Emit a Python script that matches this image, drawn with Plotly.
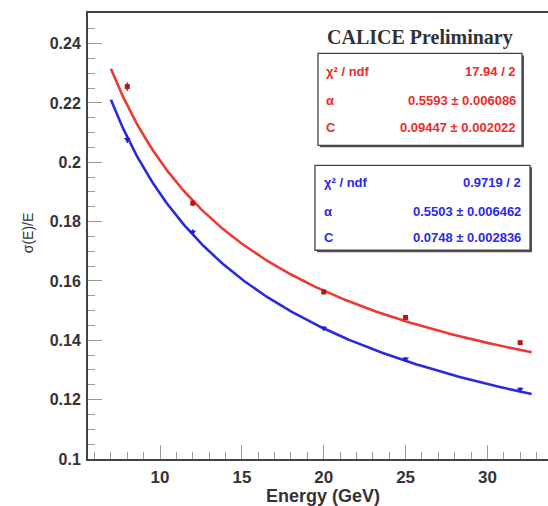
import numpy as np
import plotly.graph_objects as go

# ---- data ----
energy = [8, 12, 20, 25, 32]
red_res = [0.2255, 0.1862, 0.1563, 0.1477, 0.1392]
red_err = [0.0015, 0.0010, 0.0008, 0.0008, 0.0008]
blue_res = [0.2077, 0.1765, 0.1441, 0.1337, 0.1235]
blue_err = [0.0012, 0.0009, 0.0007, 0.0007, 0.0007]

# fit parameters shown in the stat boxes: sigma/E = alpha/sqrt(E) (+) C
red_fit = {"alpha": 0.5593, "C": 0.09447}
blue_fit = {"alpha": 0.5503, "C": 0.0748}
red_stats = [("χ² / ndf", "17.94 / 2"), ("α", "0.5593 ± 0.006086"), ("C", "0.09447 ± 0.002022")]
blue_stats = [("χ² / ndf", "0.9719 / 2"), ("α", "0.5503 ± 0.006462"), ("C", "0.0748 ± 0.002836")]

y_ticks = [0.1, 0.12, 0.14, 0.16, 0.18, 0.2, 0.22, 0.24]
y_tick_text = ["0.1", "0.12", "0.14", "0.16", "0.18", "0.2", "0.22", "0.24"]
x_ticks = [10, 15, 20, 25, 30]

fit_e = np.linspace(7.0, 32.7, 200)


def fit_curve(p):
    return np.sqrt(p["alpha"] ** 2 / fit_e + p["C"] ** 2)


W, H = 548, 506
L, R, T, B = 88, 548, 12.5, 459


def px(x):
    return (x - L) / (R - L)


def py(y):
    return (B - y) / (B - T)


RED_LINE = "#ec3a32"
BLUE_LINE = "#2a2ae0"
RED_MK = "#b81818"
BLUE_MK = "#2020c8"

fig = go.Figure()
fig.add_trace(go.Scatter(x=fit_e, y=fit_curve(red_fit), mode="lines",
                         line=dict(color=RED_LINE, width=2.6), hoverinfo="skip"))
fig.add_trace(go.Scatter(x=fit_e, y=fit_curve(blue_fit), mode="lines",
                         line=dict(color=BLUE_LINE, width=2.6), hoverinfo="skip"))
fig.add_trace(go.Scatter(x=energy, y=red_res, mode="markers",
                         error_y=dict(type="data", array=red_err, color=RED_MK, thickness=1.2, width=0),
                         marker=dict(symbol="square", size=5, color=RED_MK)))
fig.add_trace(go.Scatter(x=energy, y=blue_res, mode="markers",
                         error_y=dict(type="data", array=blue_err, color=BLUE_MK, thickness=1.2, width=0),
                         marker=dict(symbol="triangle-down", size=6, color=BLUE_MK)))

shapes = []
annotations = []


def stat_box(x0, x1, y0, y1, rows, row_y, xl, xr, color):
    # shadow
    shapes.append(dict(type="rect", xref="paper", yref="paper",
                       x0=px(x0 + 2), x1=px(x1 + 2), y0=py(y1 + 2), y1=py(y0 + 2),
                       line=dict(width=0), fillcolor="#555555", layer="above"))
    shapes.append(dict(type="rect", xref="paper", yref="paper",
                       x0=px(x0), x1=px(x1), y0=py(y1), y1=py(y0),
                       line=dict(color="#444444", width=1.3), fillcolor="white", layer="above"))
    for (lab, val), yy in zip(rows, row_y):
        annotations.append(dict(xref="paper", yref="paper", x=px(xl), y=py(yy), text=f"<b>{lab}</b>",
                                showarrow=False, xanchor="left", yanchor="middle",
                                font=dict(family="Liberation Sans", size=13, color=color)))
        annotations.append(dict(xref="paper", yref="paper", x=px(xr), y=py(yy), text=f"<b>{val}</b>",
                                showarrow=False, xanchor="right", yanchor="middle",
                                font=dict(family="Liberation Sans", size=13, color=color)))


stat_box(318, 522, 53, 145, red_stats, [71, 100, 127.5], 324, 518, "#ee2a2a")
stat_box(315, 530, 165, 250, blue_stats, [182, 211, 237.5], 322, 523, "#2a2ae6")

annotations.append(dict(xref="paper", yref="paper", x=px(420), y=py(37),
                        text="<b>CALICE Preliminary</b>", showarrow=False,
                        xanchor="center", yanchor="middle",
                        font=dict(family="Liberation Serif", size=20, color="#333333")))
annotations.append(dict(xref="paper", yref="paper", x=px(28), y=py(233),
                        text="σ(E)/E", showarrow=False, textangle=-90,
                        xanchor="center", yanchor="middle",
                        font=dict(family="Liberation Sans", size=14, color="#333333")))
annotations.append(dict(xref="paper", yref="paper", x=px(323), y=py(496),
                        text="<b>Energy (GeV)</b>", showarrow=False,
                        xanchor="center", yanchor="middle",
                        font=dict(family="Liberation Sans", size=18, color="#333333")))

fig.update_layout(
    width=W, height=H,
    margin=dict(l=L, r=W - R, t=T, b=H - B),
    paper_bgcolor="white", plot_bgcolor="white",
    showlegend=False,
    shapes=shapes, annotations=annotations,
    xaxis=dict(range=[5.6, 33.7], tickvals=x_ticks, ticks="inside", ticklen=14, tickwidth=1,
               tickcolor="#999999", showline=True, linecolor="#444444", linewidth=2, mirror=True,
               showgrid=False, zeroline=False,
               minor=dict(dtick=1, ticks="inside", ticklen=7, tickcolor="#999999", showgrid=False),
               tickfont=dict(family="Liberation Sans", size=17, color="#333333", weight="bold"),
               ticklabelstandoff=2),
    yaxis=dict(range=[0.1, 0.2503], tickvals=y_ticks, ticktext=y_tick_text, ticks="inside",
               ticklen=14, tickwidth=1, tickcolor="#999999", showline=True, linecolor="#444444",
               linewidth=2, mirror=False, showgrid=False, zeroline=False,
               minor=dict(dtick=0.005, tick0=0.1, ticks="inside", ticklen=7, tickcolor="#999999",
                          showgrid=False),
               tickfont=dict(family="Liberation Sans", size=16, color="#333333", weight="bold"),
               ticklabelstandoff=2),
)

fig.write_html("out.html")
